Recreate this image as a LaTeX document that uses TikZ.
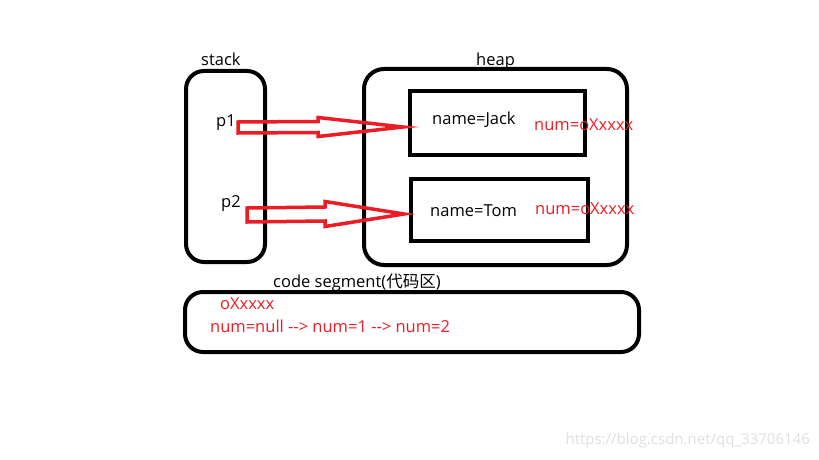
\documentclass[tikz,border=0pt]{standalone}
\usepackage{fontspec}
\setmainfont{Open Sans}
\newfontfamily\cjk{Noto Sans CJK SC}
\usepackage{tikz}
\usetikzlibrary{positioning}

\definecolor{paintred}{RGB}{237,28,36}

\begin{document}
\begin{tikzpicture} [x = 1pt, y = -1pt,
    box/.style = {draw, line width = 4pt},
    lbl/.style = {font = \fontsize{16.5}{19}\selectfont, inner sep = 0pt, anchor = west},
    redlbl/.style = {lbl, text = paintred},
    redarrow/.style = {draw = paintred, line width = 3.5pt, line join = miter}]
    \useasboundingbox (0,0) rectangle (819,460);
    % the three areas
    \draw [box, rounded corners = 18pt] (186,71) rectangle (265,262);
    \draw [box, rounded corners = 20pt] (364,69) rectangle (627,265);
    \draw [box, rounded corners = 18pt] (185,292) rectangle (639,352);
    \node [lbl] (stack) at (201,59) {stack};
    \node [lbl] (heap) at (476,61) {heap};
    \node [lbl] (code) at (273,283) {code segment({\cjk 代码区})};
    % objects in the heap
    \node [box, minimum width = 175pt, minimum height = 64pt] (jack) at (497.5,123) {};
    \node [box, minimum width = 177pt, minimum height = 62pt] (tom) at (499.5,210) {};
    \node [lbl] at (432,120) {name=Jack};
    \node [lbl] at (430,211) {name=Tom};
    \node [redlbl] at (534,125) {num=oXxxxx};
    \node [redlbl] at (535,209) {num=oXxxxx};
    % references on the stack
    \node [lbl] (p1) at (216,123) {p1};
    \node [lbl] (p2) at (221,204) {p2};
    \coordinate (a1s) at (238,127.5);
    \coordinate (a1e) at (403,127);
    \coordinate (a2s) at (247,215);
    \coordinate (a2e) at (404,214);
    \draw [redarrow] ([yshift = 5.5]a1s) -- ([xshift = -85, yshift = 5.5]a1e)
        -- ([xshift = -85, yshift = 9.5]a1e) -- (a1e)
        -- ([xshift = -85, yshift = -9.5]a1e) -- ([xshift = -85, yshift = -5.5]a1e)
        -- ([yshift = -5.5]a1s) -- cycle;
    \draw [redarrow] ([yshift = 7]a2s) -- ([xshift = -79, yshift = 7]a2e)
        -- ([xshift = -79, yshift = 12.5]a2e) -- (a2e)
        -- ([xshift = -79, yshift = -12.5]a2e) -- ([xshift = -79, yshift = -7]a2e)
        -- ([yshift = -7]a2s) -- cycle;
    % code segment contents
    \node [redlbl] (addr) at (220,304) {oXxxxx};
    \node [redlbl] (nums) at (210,326) {num=null -{}-> num=1 -{}-> num=2};
    % watermark
    \node [lbl, font = \fontsize{15}{18}\selectfont, text = black!12, anchor = east] (wm) at (810,441) {https://blog.csdn.net/qq\_33706146};
\end{tikzpicture}
\end{document}
